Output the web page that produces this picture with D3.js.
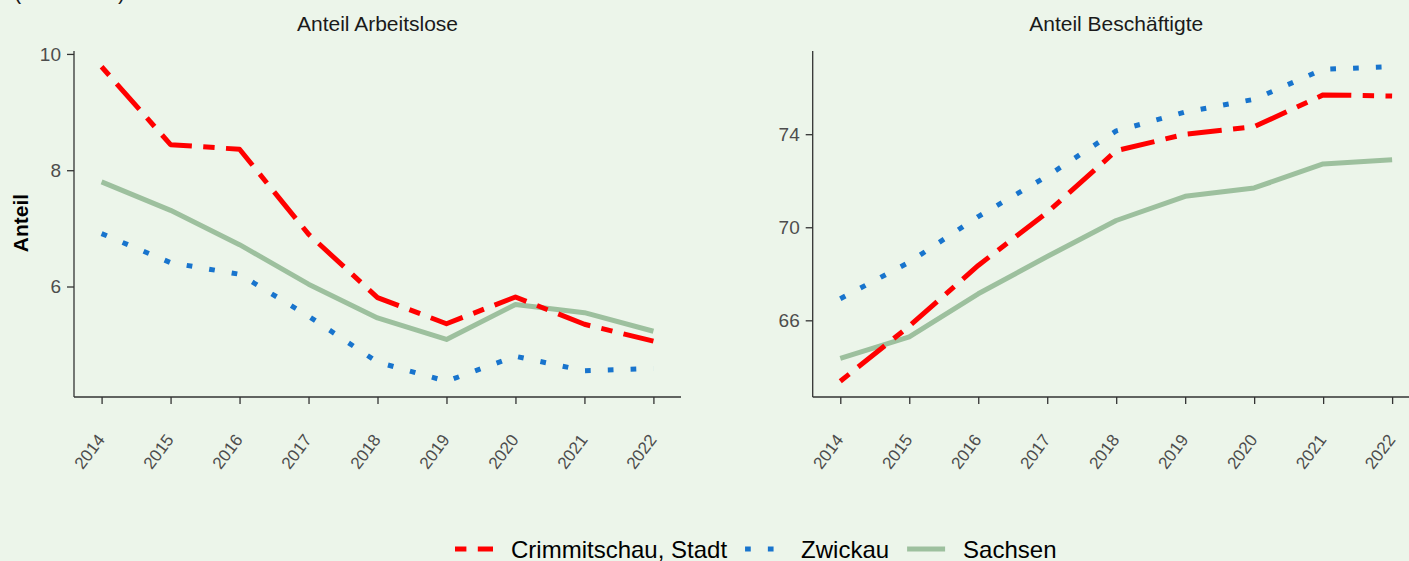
<!DOCTYPE html>
<html>
<head>
<meta charset="utf-8">
<script src="https://cdn.jsdelivr.net/npm/d3@7"></script>
<style>
  body { margin: 0; background: #ecf5ea; }
  svg { display: block; font-family: "Liberation Sans", Arial, Helvetica, sans-serif; }
  .axis path, .axis line { stroke: #333; stroke-width: 1.3; }
  .axis text { fill: #4d4d4d; }
</style>
</head>
<body>
<div class="chart"></div>
<script>
//Data
const years = [2014, 2015, 2016, 2017, 2018, 2019, 2020, 2021, 2022];
const seriesNames = ['Crimmitschau, Stadt', 'Zwickau', 'Sachsen'];
const panelTitles = ['Anteil Arbeitslose', 'Anteil Beschäftigte'];

// Anteil Arbeitslose
const alCrimmitschau = [9.78, 8.44, 8.36, 6.90, 5.81, 5.36, 5.82, 5.35, 5.06];
const alZwickau      = [6.91, 6.41, 6.21, 5.49, 4.70, 4.37, 4.80, 4.55, 4.59];
const alSachsen      = [7.80, 7.31, 6.72, 6.04, 5.46, 5.09, 5.69, 5.55, 5.23];

// Anteil Beschäftigte
const bsCrimmitschau = [63.38, 65.75, 68.36, 70.64, 73.29, 74.00, 74.32, 75.69, 75.64];
const bsZwickau      = [66.93, 68.50, 70.46, 72.20, 74.14, 74.95, 75.50, 76.79, 76.90];
const bsSachsen      = [64.36, 65.29, 67.14, 68.74, 70.29, 71.33, 71.69, 72.72, 72.90];

const yTicksLeft = [6, 8, 10];
const yTicksRight = [66, 70, 74];

//Styles
const colors = {'Crimmitschau, Stadt': '#ff0000', 'Zwickau': '#1874cd', 'Sachsen': '#9dc09e'};
const u = 5.7;
const dashes = {'Crimmitschau, Stadt': [2*u, 2*u, 6*u, 2*u].join(','), 'Zwickau': [u, 3*u].join(','), 'Sachsen': null};
const lineWidth = 5;

//Layout
const W = 1409, H = 561;
const panelW = 607;
const plotTop = 51, plotBottom = 397;
const panelX = [74, 812.7];

const svg = d3.select('.chart')
    .append('svg')
    .attr('width', W)
    .attr('height', H);

svg.append('rect').attr('width', W).attr('height', H).attr('fill', '#ecf5ea');

// subtitle, cut off at the top edge as in the original
svg.append('text')
    .attr('x', 14)
    .attr('y', -1.5)
    .style('font-size', '21.5px')
    .style('fill', '#1a1a1a')
    .text('(in Prozent)');

function expand(ext, mult){
    const pad = (ext[1] - ext[0]) * mult;
    return [ext[0] - pad, ext[1] + pad];
}

const xScale = d3.scaleLinear()
    .domain(expand(d3.extent(years), 0.05))
    .range([0, panelW]);

function drawPanel(i, series, ticks){
    const g = svg.append('g').attr('transform', `translate(${panelX[i]}, 0)`);

    const allVals = series.flatMap(s => s.values);
    const yScale = d3.scaleLinear()
        .domain(expand(d3.extent(allVals), 0.05))
        .range([plotBottom, plotTop]);

    //Header
    g.append('text')
        .attr('x', panelW / 2)
        .attr('y', 31)
        .attr('text-anchor', 'middle')
        .style('font-size', '21px')
        .style('fill', '#1a1a1a')
        .text(panelTitles[i]);

    //Lines
    const line = d3.line()
        .x(d => xScale(d.year))
        .y(d => yScale(d.value));

    const order = ['Sachsen', 'Zwickau', 'Crimmitschau, Stadt'];
    order.forEach(name => {
        const s = series.find(d => d.name === name);
        g.append('path')
            .datum(years.map((y, k) => ({year: y, value: s.values[k]})))
            .attr('d', line)
            .attr('fill', 'none')
            .attr('stroke', colors[name])
            .attr('stroke-width', lineWidth)
            .attr('stroke-linejoin', 'round')
            .attr('stroke-linecap', 'butt')
            .attr('stroke-dasharray', dashes[name]);
    });

    //Axes
    const yAxis = d3.axisLeft(yScale)
        .tickValues(ticks)
        .tickFormat(d3.format('d'))
        .tickSizeInner(7)
        .tickSizeOuter(0)
        .tickPadding(6);

    const yAxisDraw = g.append('g')
        .attr('class', 'y axis')
        .call(yAxis);
    yAxisDraw.selectAll('text').style('font-size', '19px');

    const xAxis = d3.axisBottom(xScale)
        .tickValues(years)
        .tickFormat(d3.format('d'))
        .tickSizeInner(7)
        .tickSizeOuter(0);

    const xAxisDraw = g.append('g')
        .attr('class', 'x axis')
        .attr('transform', `translate(0, ${plotBottom})`)
        .call(xAxis);

    xAxisDraw.selectAll('text')
        .attr('x', 0)
        .attr('y', 0)
        .attr('dy', 0)
        .attr('text-anchor', 'end')
        .attr('transform', 'translate(3.5, 43) rotate(-53)')
        .style('font-size', '17px');

    xAxisDraw.select('.domain').attr('d', `M0,0H${panelW}`);
    yAxisDraw.select('.domain').attr('d', `M0,${plotBottom}V${plotTop}`);
}

drawPanel(0, [
    {name: 'Crimmitschau, Stadt', values: alCrimmitschau},
    {name: 'Zwickau', values: alZwickau},
    {name: 'Sachsen', values: alSachsen}
], yTicksLeft);

drawPanel(1, [
    {name: 'Crimmitschau, Stadt', values: bsCrimmitschau},
    {name: 'Zwickau', values: bsZwickau},
    {name: 'Sachsen', values: bsSachsen}
], yTicksRight);

// y axis title
svg.append('text')
    .attr('transform', 'translate(28, 223) rotate(-90)')
    .attr('text-anchor', 'middle')
    .style('font-size', '21px')
    .style('font-weight', 'bold')
    .style('fill', '#000')
    .text('Anteil');

//Legend
const legend = svg.append('g').attr('class', 'legend');
const keyW = 38, keyGap = 18, legendY = 549;
let lx = 455;
seriesNames.forEach(name => {
    legend.append('line')
        .attr('x1', lx).attr('x2', lx + keyW)
        .attr('y1', legendY).attr('y2', legendY)
        .attr('stroke', colors[name])
        .attr('stroke-width', lineWidth)
        .attr('stroke-dasharray', dashes[name]);
    const t = legend.append('text')
        .attr('x', lx + keyW + keyGap)
        .attr('y', legendY)
        .attr('dy', '0.36em')
        .style('font-size', '24px')
        .style('fill', '#000')
        .text(name);
    lx += keyW + keyGap + t.node().getComputedTextLength() + 18;
});
</script>
</body>
</html>
